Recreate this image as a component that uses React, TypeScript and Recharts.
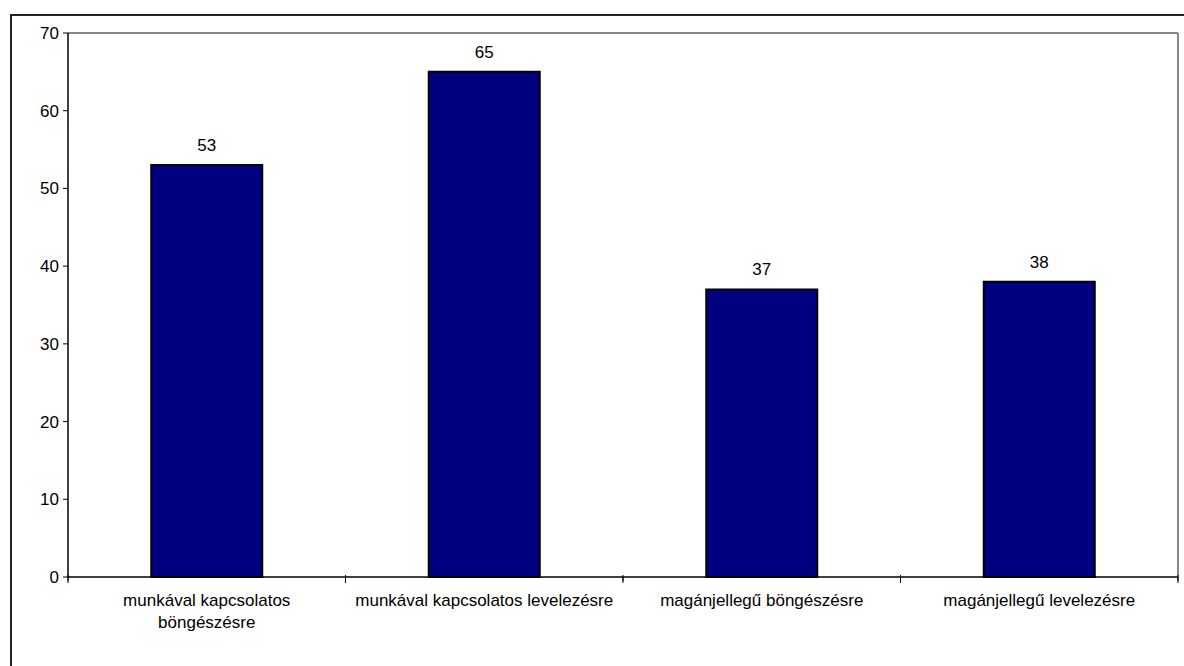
import React from "react";
import { BarChart, Bar, XAxis, YAxis, LabelList } from "recharts";

// categories and values
const categories = [
  "munkával kapcsolatos\nböngészésre",
  "munkával kapcsolatos levelezésre",
  "magánjellegű böngészésre",
  "magánjellegű levelezésre",
];
const values = [53, 65, 37, 38];
const yTicks = [0, 10, 20, 30, 40, 50, 60, 70];
const boundaryTicks = [0, 1, 2, 3, 4];

const data = categories.map((name, i) => ({ name, value: values[i], pos: i + 0.5 }));

const FONT = "'Liberation Sans', Arial, sans-serif";

function CategoryTick(props: any) {
  const { x, y, payload } = props;
  const lines = String(payload.value).split("\n");
  return (
    <g>
      {lines.map((line: string, i: number) => (
        <text
          key={i}
          x={x}
          y={y + 20 + i * 22}
          textAnchor="middle"
          fontSize={17}
          fontFamily={FONT}
          fill="#000"
        >
          {line}
        </text>
      ))}
    </g>
  );
}

function BoundaryTick(props: any) {
  const { x, y } = props;
  return <line x1={x} y1={y - 8} x2={x} y2={y - 2} stroke="#000" strokeWidth={1} />;
}

export default function App() {
  return (
    <div
      style={{
        position: "absolute",
        left: 0,
        top: 0,
        width: 1184,
        height: 666,
        background: "#fff",
        overflow: "hidden",
      }}
    >
      <div
        style={{
          position: "absolute",
          left: 10,
          top: 14,
          width: 1200,
          height: 700,
          borderTop: "2px solid #222",
          borderLeft: "2px solid #222",
        }}
      />
      <div style={{ position: "absolute", left: 0, top: 0 }}>
        <BarChart
          width={1184}
          height={666}
          data={data}
          margin={{ top: 32, right: 5, left: 0, bottom: 0 }}
          barCategoryGap="30%"
        >
          <XAxis
            xAxisId="top"
            orientation="top"
            dataKey="name"
            height={1}
            tick={false}
            tickLine={false}
            axisLine={{ stroke: "#888", strokeWidth: 2 }}
          />
          <XAxis
            xAxisId="bnd"
            type="number"
            dataKey="pos"
            domain={[0, 4]}
            ticks={boundaryTicks}
            interval={0}
            allowDataOverflow
            height={1}
            tickSize={6}
            tickMargin={0}
            tick={<BoundaryTick />}
            tickLine={{ stroke: "#000" }}
            axisLine={{ stroke: "#000", strokeWidth: 1.5 }}
          />
          <XAxis
            xAxisId="cat"
            dataKey="name"
            height={88}
            axisLine={false}
            tickLine={false}
            interval={0}
            tick={<CategoryTick />}
          />
          <YAxis
            yAxisId="r"
            orientation="right"
            width={1}
            domain={[0, 70]}
            tick={false}
            tickLine={false}
            axisLine={{ stroke: "#888", strokeWidth: 2 }}
          />
          <YAxis
            width={68}
            domain={[0, 70]}
            ticks={yTicks}
            interval={0}
            tickSize={5}
            tickMargin={4}
            tickLine={{ stroke: "#000" }}
            axisLine={{ stroke: "#000", strokeWidth: 1.5 }}
            tick={{ fill: "#000", fontSize: 17, fontFamily: FONT }}
          />
          <Bar
            dataKey="value"
            xAxisId="cat"
            fill="#000080"
            stroke="#000"
            strokeWidth={2}
            isAnimationActive={false}
          >
            <LabelList
              dataKey="value"
              position="top"
              offset={14}
              fill="#000"
              fontSize={17}
              fontFamily={FONT}
            />
          </Bar>
        </BarChart>
      </div>
    </div>
  );
}
